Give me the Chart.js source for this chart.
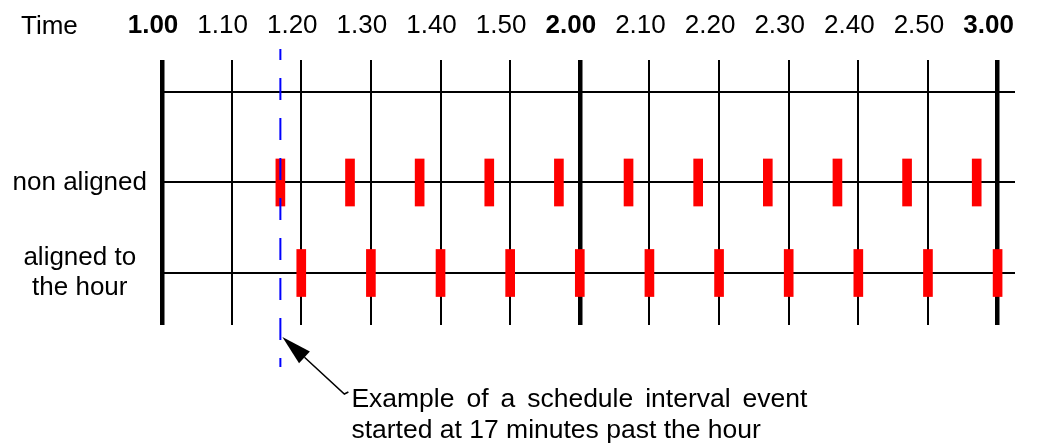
<!DOCTYPE html>
<html>
<head>
<meta charset="utf-8">
<script src="https://cdn.jsdelivr.net/npm/chart.js@4/dist/chart.umd.min.js"></script>
<style>
  body { margin: 0; background: #fff; }
  #wrap { width: 1042px; height: 444px; }
</style>
</head>
<body>
<div id="wrap"><canvas id="myChart" width="1042" height="444"></canvas></div>
<script>
// time axis, in minutes after 1.00
const tickMinutes = [0, 10, 20, 30, 40, 50, 60, 70, 80, 90, 100, 110, 120];
const tickLabels = ['1.00', '1.10', '1.20', '1.30', '1.40', '1.50', '2.00', '2.10', '2.20', '2.30', '2.40', '2.50', '3.00'];

// rows (bottom to top)
const rowValues = [1, 2, 3];
const rowLabels = [['aligned to', 'the hour'], 'non aligned', ''];

// event times, minutes after 1.00
const nonAlignedMinutes = [17, 27, 37, 47, 57, 67, 77, 87, 97, 107, 117];
const alignedMinutes = [20, 30, 40, 50, 60, 70, 80, 90, 100, 110, 120];
const firstEventMinute = 17;

const axisTitle = 'Time';
const noteLines = ['Example of a schedule interval event', 'started at 17 minutes past the hour'];

const FONT = '"Liberation Sans", Arial, sans-serif';
const barHalf = 0.26;

const rowBars = (minutes, row) => minutes.map(m => ({ x: m, y: [row - barHalf, row + barHalf] }));

function drawJustified(ctx, text, x, y, width) {
    const words = text.split(' ');
    const total = words.reduce((s, w) => s + ctx.measureText(w).width, 0);
    const gap = (width - total) / (words.length - 1);
    let cx = x;
    words.forEach(w => {
        ctx.fillText(w, cx, y);
        cx += ctx.measureText(w).width + gap;
    });
}

// "Time" title + arrow with the note
const notePlugin = {
    id: 'note',
    afterDraw(chart) {
        const { ctx, chartArea, scales } = chart;
        ctx.save();
        ctx.fillStyle = '#000';
        ctx.strokeStyle = '#000';
        ctx.font = '26px ' + FONT;
        ctx.textBaseline = 'alphabetic';
        ctx.fillText(axisTitle, 21, 34);

        // arrow
        const tipX = scales.x.getPixelForValue(firstEventMinute) + 2;
        const tipY = chartArea.bottom + 12;
        const tailX = tipX + 62, tailY = tipY + 57;
        const len = Math.hypot(tailX - tipX, tailY - tipY);
        const ux = (tailX - tipX) / len, uy = (tailY - tipY) / len;
        const bx = tipX + ux * 30, by = tipY + uy * 30;
        ctx.lineWidth = 1.5;
        ctx.beginPath();
        ctx.moveTo(bx, by);
        ctx.lineTo(tailX, tailY);
        ctx.lineTo(tailX + 4, tailY - 2);
        ctx.stroke();
        ctx.beginPath();
        ctx.moveTo(tipX, tipY);
        ctx.lineTo(bx - uy * 8, by + ux * 8);
        ctx.lineTo(bx + uy * 8, by - ux * 8);
        ctx.closePath();
        ctx.fill();

        // note text
        ctx.font = '26.5px ' + FONT;
        const textX = tipX + 69;
        drawJustified(ctx, noteLines[0], textX, tipY + 70, 456);
        ctx.fillText(noteLines[1], textX, tipY + 101);
        ctx.restore();
    }
};

Chart.defaults.font.family = FONT;
Chart.defaults.color = '#000';

const ctx = document.getElementById('myChart').getContext('2d');
const myChart = new Chart(ctx, {
    type: 'bar',
    data: {
        datasets: [{
            type: 'line',
            data: [{ x: firstEventMinute, y: 3.475 }, { x: firstEventMinute, y: -0.04 }],
            borderColor: '#0000ff',
            borderWidth: 2,
            borderDash: [22, 18],
            borderDashOffset: 11,
            pointRadius: 0,
            clip: false,
            order: 0
        }, {
            label: 'non aligned',
            data: rowBars(nonAlignedMinutes, rowValues[1]),
            backgroundColor: '#ff0000',
            barThickness: 9,
            grouped: false,
            order: 1
        }, {
            label: 'aligned to the hour',
            data: rowBars(alignedMinutes, rowValues[0]),
            backgroundColor: '#ff0000',
            barThickness: 9,
            grouped: false,
            order: 1
        }]
    },
    options: {
        responsive: false,
        animation: false,
        layout: { padding: { left: 0, right: 27, top: 0, bottom: 119 } },
        plugins: { legend: { display: false }, tooltip: { enabled: false } },
        scales: {
            x: {
                type: 'linear',
                position: 'top',
                min: 0,
                max: 122.5,
                offset: false,
                afterBuildTicks: scale => { scale.ticks = tickMinutes.map(v => ({ value: v })); },
                afterFit: scale => { scale.height = 60; scale.paddingLeft = 0; scale.paddingRight = 0; },
                border: { display: false },
                grid: {
                    offset: false,
                    drawTicks: false,
                    color: '#000',
                    lineWidth: c => (c.tick && c.tick.value % 60 === 0) ? 4.5 : 2
                },
                ticks: {
                    autoSkip: false,
                    maxRotation: 0,
                    padding: 19,
                    labelOffset: -9,
                    color: '#000',
                    font: c => ({ size: 26, weight: (c.tick && c.tick.value % 60 === 0) ? 'bold' : 'normal' }),
                    callback: (v, i) => tickLabels[i]
                }
            },
            y: {
                type: 'linear',
                min: 0.4254,
                max: 3.3536,
                afterBuildTicks: scale => { scale.ticks = rowValues.map(v => ({ value: v })); },
                afterFit: scale => { scale.width = 162; scale.paddingTop = 0; scale.paddingBottom = 0; },
                border: { display: false },
                grid: { drawTicks: false, color: '#000', lineWidth: 2 },
                ticks: {
                    padding: 15,
                    crossAlign: 'center',
                    color: '#000',
                    font: { size: 26, lineHeight: 30 / 26 },
                    callback: (v, i) => rowLabels[i]
                }
            }
        }
    },
    plugins: [notePlugin]
});
</script>
</body>
</html>
